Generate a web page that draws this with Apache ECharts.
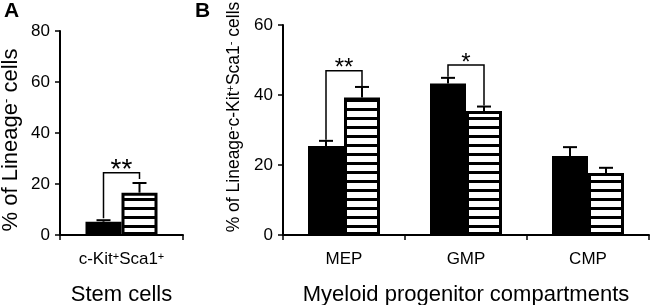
<!DOCTYPE html>
<html>
<head>
<meta charset="utf-8">
<script src="https://cdn.jsdelivr.net/npm/echarts@6/dist/echarts.min.js"></script>
<style>html,body{margin:0;padding:0;background:#fff}#container{width:650px;height:305px}</style>
</head>
<body>
<div id="container"></div>
<script>
var FONT = '"Liberation Sans", Arial, sans-serif';

// panel A - stem cells
var stemCategories = ['c-Kit+Sca1+'];
var stemControl = [5.2];
var stemControlErr = [5.8];
var stemKnockout = [16.6];
var stemKnockoutErr = [20.4];
// [category, left leg bottom, right leg bottom, top]
var stemBrackets = [[0, 6.6, 22.0, 24.4]];
var stemStars = ['**'];
var stemTicks = [0, 20, 40, 60, 80];

// panel B - myeloid progenitors
var progCategories = ['MEP', 'GMP', 'CMP'];
var progControl = [25.4, 43.3, 22.6];
var progControlErr = [26.9, 44.9, 25.1];
var progKnockout = [39.3, 35.4, 17.7];
var progKnockoutErr = [42.3, 36.7, 19.2];
var progBrackets = [[0, 27.2, 42.4, 46.9], [1, 45.2, 37.0, 48.6]];
var progStars = ['**', '*'];
var progTicks = [0, 20, 40, 60];

// horizontal stripe fill
var stripe = document.createElement('canvas');
stripe.width = 4; stripe.height = 9;
var cx = stripe.getContext('2d');
cx.fillStyle = '#fff'; cx.fillRect(0, 0, 4, 9);
cx.fillStyle = '#000'; cx.fillRect(0, 0, 4, 3);
var stripeFill = {image: stripe, repeat: 'repeat'};

function errorBars(offset) {
	return function (params, api) {
		var base = api.coord([api.value(0), api.value(1)]);
		var top = api.coord([api.value(0), api.value(2)]);
		var x = base[0] + offset;
		return {type: 'group', children: [
			{type: 'line', shape: {x1: x, y1: base[1], x2: x, y2: top[1]}, style: {stroke: '#000', lineWidth: 2}},
			{type: 'line', shape: {x1: x - 7, y1: top[1], x2: x + 7, y2: top[1]}, style: {stroke: '#000', lineWidth: 2}}
		]};
	};
}

function brackets(stars, size) {
	return function (params, api) {
		var c = api.value(0);
		var l = api.coord([c, api.value(1)]);
		var r = api.coord([c, api.value(2)]);
		var t = api.coord([c, api.value(3)]);
		var xl = l[0] - 18, xr = l[0] + 18;
		return {type: 'group', children: [
			{type: 'polyline', shape: {points: [[xl, l[1]], [xl, t[1]], [xr, t[1]], [xr, r[1]]]},
				style: {stroke: '#000', lineWidth: 1.5, fill: null}},
			{type: 'text', style: {x: (xl + xr) / 2, y: t[1] - 2, text: stars[params.dataIndex],
				fontSize: size, fontFamily: FONT, fill: '#000', align: 'center', verticalAlign: 'middle'}}
		]};
	};
}

function xAx(idx, cats, name, fmt) {
	return {
		type: 'category', gridIndex: idx, data: cats,
		axisLine: {lineStyle: {color: '#000', width: 2}},
		axisTick: {show: true, length: 5, lineStyle: {color: '#000', width: 1.5}},
		axisLabel: {margin: 16, color: '#000', fontSize: 17, fontFamily: FONT, formatter: fmt,
			rich: {n: {fontSize: 17, fontFamily: FONT, color: '#000'}, s: {fontSize: 11, fontFamily: FONT, color: '#000', verticalAlign: 'top'}}},
		name: name, nameLocation: 'middle', nameGap: 49,
		nameTextStyle: {fontSize: 22, color: '#000', fontFamily: FONT}
	};
}

function yAx(idx, ticks, name, gap, pad, size) {
	return {
		type: 'value', gridIndex: idx, min: ticks[0], max: ticks[ticks.length - 1], interval: ticks[1] - ticks[0],
		splitLine: {show: false},
		axisLine: {show: true, lineStyle: {color: '#000', width: 2}},
		axisTick: {show: true, length: 5, lineStyle: {color: '#000', width: 1.5}},
		axisLabel: {margin: 10, color: '#000', fontSize: 17, fontFamily: FONT},
		name: name, nameLocation: 'middle', nameGap: gap,
		nameTextStyle: {fontSize: size, color: '#000', fontFamily: FONT, padding: pad,
			rich: {n: {fontSize: size, fontFamily: FONT, color: '#000'}, s: {fontSize: Math.round(size * 0.6), fontFamily: FONT, color: '#000', verticalAlign: 'top'}}}
	};
}

function pair(a, b) { return a.map(function (v, i) { return [i, v, b[i]]; }); }

var option = {
	animation: false,
	textStyle: {fontFamily: FONT},
	title: [
		{text: 'A', left: 4, top: 1, padding: 0, textStyle: {fontSize: 21, fontWeight: 'bold', color: '#000', fontFamily: FONT}},
		{text: 'B', left: 195, top: 1, padding: 0, textStyle: {fontSize: 21, fontWeight: 'bold', color: '#000', fontFamily: FONT}}
	],
	grid: [
		{left: 60, top: 31, width: 123, height: 204, outerBoundsMode: 'none', containLabel: false},
		{left: 283, top: 25, width: 366, height: 210, outerBoundsMode: 'none', containLabel: false}
	],
	xAxis: [
		xAx(0, stemCategories, 'Stem cells', function () { return '{n|c-Kit}{s|+}{n|Sca1}{s|+}'; }),
		xAx(1, progCategories, 'Myeloid progenitor compartments')
	],
	yAxis: [
		yAx(0, stemTicks, '{n|% of Lineage}{s|-}{n| cells}', 38, [0, 14, 0, 0], 22),
		yAx(1, progTicks, '{n|% of Lineage}{s|-}{n|c-Kit}{s|+}{n|Sca1}{s|-}{n| cells}', 32, [0, 0, 0, 26], 17.5)
	],
	series: [
		{type: 'bar', xAxisIndex: 0, yAxisIndex: 0, data: stemControl, barWidth: 36, barGap: '0%', itemStyle: {color: '#000'}},
		{type: 'bar', xAxisIndex: 0, yAxisIndex: 0, data: stemKnockout, barWidth: 36, barGap: '0%', itemStyle: {color: stripeFill, borderColor: '#000', borderWidth: 3}},
		{type: 'bar', xAxisIndex: 1, yAxisIndex: 1, data: progControl, barWidth: 36, barGap: '0%', itemStyle: {color: '#000'}},
		{type: 'bar', xAxisIndex: 1, yAxisIndex: 1, data: progKnockout, barWidth: 36, barGap: '0%', itemStyle: {color: stripeFill, borderColor: '#000', borderWidth: 3}},
		{type: 'custom', xAxisIndex: 0, yAxisIndex: 0, z: 3, renderItem: errorBars(-18), data: pair(stemControl, stemControlErr)},
		{type: 'custom', xAxisIndex: 0, yAxisIndex: 0, z: 3, renderItem: errorBars(18), data: pair(stemKnockout, stemKnockoutErr)},
		{type: 'custom', xAxisIndex: 1, yAxisIndex: 1, z: 3, renderItem: errorBars(-18), data: pair(progControl, progControlErr)},
		{type: 'custom', xAxisIndex: 1, yAxisIndex: 1, z: 3, renderItem: errorBars(18), data: pair(progKnockout, progKnockoutErr)},
		{type: 'custom', xAxisIndex: 0, yAxisIndex: 0, z: 3, renderItem: brackets(stemStars, 28), data: stemBrackets},
		{type: 'custom', xAxisIndex: 1, yAxisIndex: 1, z: 3, renderItem: brackets(progStars, 24), data: progBrackets}
	]
};

var myChart = echarts.init(document.getElementById('container'), null, {renderer: 'canvas'});
myChart.setOption(option);
</script>
</body>
</html>
